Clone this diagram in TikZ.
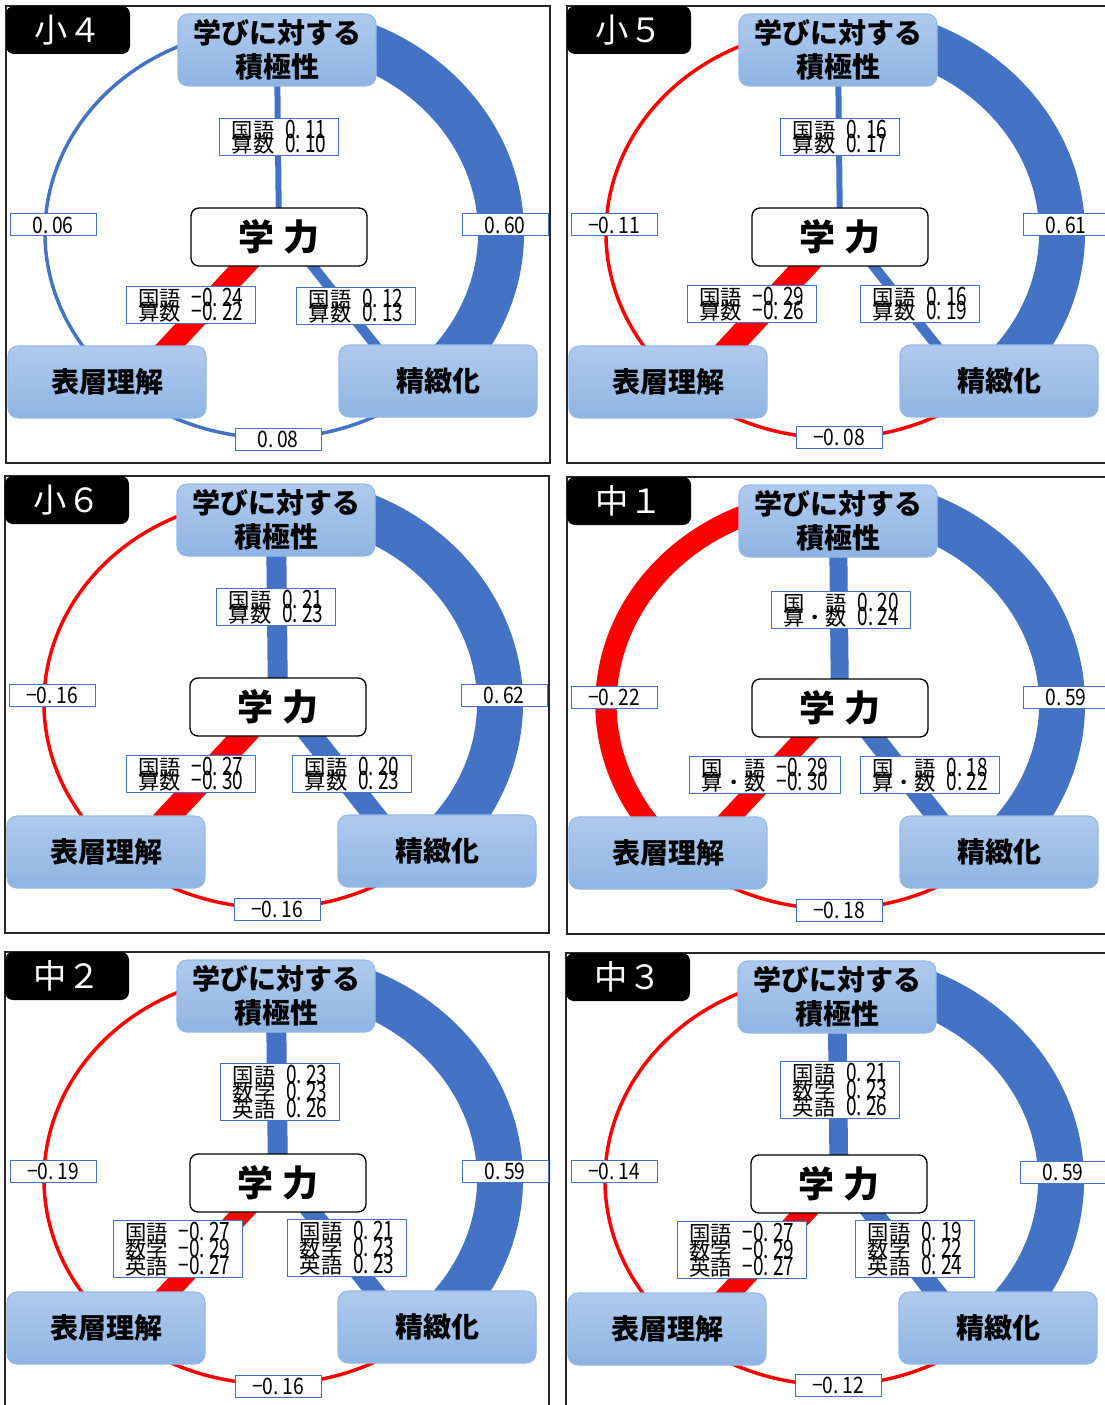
\documentclass[tikz,border=0pt]{standalone}
\usepackage{fontspec}
\setmainfont{Noto Sans CJK JP}
\newfontfamily\numfont[FakeStretch=0.85]{Noto Sans CJK JP}
\newfontfamily\subnumfont[FakeStretch=0.75]{Noto Sans CJK JP}
\usetikzlibrary{positioning}
\pgfdeclarelayer{background}
\pgfsetlayers{background,main}

\definecolor{linkblue}{RGB}{68,114,196}
\definecolor{linkred}{RGB}{255,0,0}
\definecolor{boxtop}{RGB}{176,202,238}
\definecolor{boxbot}{RGB}{143,180,226}
\definecolor{boxline}{RGB}{150,186,232}

% one row of a subject label: subject, value
\newcommand{\cf}[2]{#1\hspace{8pt}{\subnumfont\fontsize{19pt}{19pt}\selectfont #2}}

% frame, grade tag and the four boxes of one panel
\newcommand{\basepanel}[2]{%
  \draw[frame] (0,0) rectangle (544,-457);
  \node[tag] (#1tag) at (62,-24) {#2};
  \node[topic] (#1jk) at (271,-44) {学びに対する\\積極性};
  \node[core] (#1gk) at (273,-231) {学\hspace{7.5pt}力};
  \node[topic] (#1hs) at (101,-376) {表層理解};
  \node[topic] (#1sc) at (432,-375) {精緻化};
  \coordinate (#1c) at (267,-227);
}

% the three arcs of the ring
\newcommand{\ringleft}[3]{\draw[#2, line width=#3]
  ([shift={(112:228 and 205)}]#1c) arc[start angle=112, end angle=228, x radius=228, y radius=205];}
\newcommand{\ringright}[3]{\draw[#2, line width=#3]
  ([shift={(68:228 and 205)}]#1c) arc[start angle=68, end angle=-50, x radius=228, y radius=205];}
\newcommand{\ringbottom}[3]{\draw[#2, line width=#3]
  ([shift={(230:228 and 205)}]#1c) arc[start angle=230, end angle=310, x radius=228, y radius=205];}

% the three links to 学力: prefix, top width, left width, right width
\newcommand{\links}[4]{%
  \draw[link, linkblue, line width=#2] (#1jk) -- (#1gk);
  \draw[link, linkred, line width=#3] (#1gk.-140) -- (#1hs.30);
  \draw[link, linkblue, line width=#4] (#1gk.-41) -- (#1sc.150);
}

\begin{document}
\lineskiplimit=-100pt
\begin{tikzpicture}[
  x=0.75pt, y=0.75pt,
  frame/.style={draw=black!85, line width=1.1pt},
  tag/.style={fill=black, rounded corners=6pt, minimum width=93pt,
              minimum height=36pt, text=white,
              font=\fontsize{25pt}{25pt}\selectfont},
  topic/.style={draw=boxline, line width=0.8pt, rounded corners=7.5pt,
                top color=boxtop, bottom color=boxbot, minimum width=148.5pt,
                minimum height=54pt, align=center, inner sep=0pt,
                font=\bfseries\fontsize{21pt}{25pt}\selectfont},
  core/.style={draw=black, line width=1pt, fill=white, rounded corners=6pt,
               minimum width=132pt, minimum height=43.5pt,
               font=\bfseries\fontsize{27pt}{27pt}\selectfont},
  coef/.style={draw=linkblue, line width=0.75pt, fill=white,
               minimum width=64.5pt, minimum height=16.5pt, inner sep=0pt,
               font=\numfont\fontsize{17pt}{17pt}\selectfont},
  sublabel/.style={draw=linkblue, line width=0.75pt, fill=white, align=left,
                   inner xsep=9pt, inner ysep=1pt,
                   font=\fontsize{16pt}{10.5pt}\selectfont},
  sublabelc/.style={sublabel, font=\fontsize{16pt}{13pt}\selectfont},
  link/.style={shorten <=-8pt, shorten >=-8pt}
]
\useasboundingbox (0,0) rectangle (1105,-1405);

% 小4
\begin{scope}[shift={(6,-6)}]
  \basepanel{a}{小４}
  \node[coef] (aleft) at (47,-219) {0.\,06};
  \node[coef] (aright) at (499,-219) {0.\,60};
  \node[coef] (abottom) at (272,-433) {0.\,08};
  \node[sublabel] (atop) at (273,-131) {\cf{国語}{0.\,11}\\\cf{算数}{0.\,10}};
  \node[sublabel] (alb) at (185,-299) {\cf{国語}{−0.\,24}\\\cf{算数}{−0.\,22}};
  \node[sublabel] (arb) at (350,-300) {\cf{国語}{0.\,12}\\\cf{算数}{0.\,13}};
  \begin{pgfonlayer}{background}
    \ringleft{a}{linkblue}{2.6pt}
    \ringright{a}{linkblue}{34.5pt}
    \ringbottom{a}{linkblue}{2.6pt}
    \links{a}{4.5pt}{16.5pt}{7.5pt}
  \end{pgfonlayer}
\end{scope}

% 小5
\begin{scope}[shift={(567,-6)}]
  \basepanel{b}{小５}
  \node[coef] (bleft) at (47,-219) {−0.\,11};
  \node[coef] (bright) at (499,-219) {0.\,61};
  \node[coef] (bbottom) at (272,-431) {−0.\,08};
  \node[sublabel] (btop) at (273,-131) {\cf{国語}{0.\,16}\\\cf{算数}{0.\,17}};
  \node[sublabel] (blb) at (185,-298) {\cf{国語}{−0.\,29}\\\cf{算数}{−0.\,26}};
  \node[sublabel] (brb) at (353,-298) {\cf{国語}{0.\,16}\\\cf{算数}{0.\,19}};
  \begin{pgfonlayer}{background}
    \ringleft{b}{linkred}{2.6pt}
    \ringright{b}{linkblue}{34.5pt}
    \ringbottom{b}{linkred}{2.6pt}
    \links{b}{4.5pt}{18pt}{7.5pt}
  \end{pgfonlayer}
\end{scope}

% 小6
\begin{scope}[shift={(5,-476)}]
  \basepanel{c}{小６}
  \node[coef] (cleft) at (47,-219) {−0.\,16};
  \node[coef] (cright) at (499,-219) {0.\,62};
  \node[coef] (cbottom) at (272,-433) {−0.\,16};
  \node[sublabel] (ctop) at (271,-131) {\cf{国語}{0.\,21}\\\cf{算数}{0.\,23}};
  \node[sublabel] (clb) at (186,-298) {\cf{国語}{−0.\,27}\\\cf{算数}{−0.\,30}};
  \node[sublabel] (crb) at (347,-298) {\cf{国語}{0.\,20}\\\cf{算数}{0.\,23}};
  \begin{pgfonlayer}{background}
    \ringleft{c}{linkred}{2.6pt}
    \ringright{c}{linkblue}{34.5pt}
    \ringbottom{c}{linkred}{2.6pt}
    \links{c}{15pt}{18pt}{16.5pt}
  \end{pgfonlayer}
\end{scope}

% 中1
\begin{scope}[shift={(567,-477)}]
  \basepanel{d}{中１}
  \node[coef] (dleft) at (47,-220) {−0.\,22};
  \node[coef] (dright) at (499,-220) {0.\,59};
  \node[coef] (dbottom) at (272,-433) {−0.\,18};
  \node[sublabel] (dtop) at (274,-133) {\cf{国　語}{0.\,20}\\\cf{算・数}{0.\,24}};
  \node[sublabel] (dlb) at (198,-298) {\cf{国　語}{−0.\,29}\\\cf{算・数}{−0.\,30}};
  \node[sublabel] (drb) at (363,-298) {\cf{国　語}{0.\,18}\\\cf{算・数}{0.\,22}};
  \begin{pgfonlayer}{background}
    \ringleft{d}{linkred}{16pt}
    \ringright{d}{linkblue}{34.5pt}
    \ringbottom{d}{linkred}{2.6pt}
    \links{d}{13.5pt}{15pt}{15pt}
  \end{pgfonlayer}
\end{scope}

% 中2
\begin{scope}[shift={(5,-952)}]
  \basepanel{e}{中２}
  \node[coef] (eleft) at (48,-219) {−0.\,19};
  \node[coef] (eright) at (500,-219) {0.\,59};
  \node[coef] (ebottom) at (273,-434) {−0.\,16};
  \node[sublabelc] (etop) at (275,-140) {\cf{国語}{0.\,23}\\\cf{数学}{0.\,23}\\\cf{英語}{0.\,26}};
  \node[sublabelc] (elb) at (173,-297) {\cf{国語}{−0.\,27}\\\cf{数学}{−0.\,29}\\\cf{英語}{−0.\,27}};
  \node[sublabelc] (erb) at (342,-296) {\cf{国語}{0.\,21}\\\cf{数学}{0.\,23}\\\cf{英語}{0.\,23}};
  \begin{pgfonlayer}{background}
    \ringleft{e}{linkred}{2.6pt}
    \ringright{e}{linkblue}{34.5pt}
    \ringbottom{e}{linkred}{2.6pt}
    \links{e}{15pt}{15pt}{14pt}
  \end{pgfonlayer}
\end{scope}

% 中3
\begin{scope}[shift={(566,-953)}]
  \basepanel{f}{中３}
  \node[coef] (fleft) at (48,-218) {−0.\,14};
  \node[coef] (fright) at (497,-219) {0.\,59};
  \node[coef] (fbottom) at (272,-432) {−0.\,12};
  \node[sublabelc] (ftop) at (274,-137) {\cf{国語}{0.\,21}\\\cf{数学}{0.\,23}\\\cf{英語}{0.\,26}};
  \node[sublabelc] (flb) at (176,-297) {\cf{国語}{−0.\,27}\\\cf{数学}{−0.\,29}\\\cf{英語}{−0.\,27}};
  \node[sublabelc] (frb) at (349,-296) {\cf{国語}{0.\,19}\\\cf{数学}{0.\,22}\\\cf{英語}{0.\,24}};
  \begin{pgfonlayer}{background}
    \ringleft{f}{linkred}{2.6pt}
    \ringright{f}{linkblue}{34.5pt}
    \ringbottom{f}{linkred}{2.6pt}
    \links{f}{14pt}{16pt}{15pt}
  \end{pgfonlayer}
\end{scope}
\end{tikzpicture}
\end{document}
